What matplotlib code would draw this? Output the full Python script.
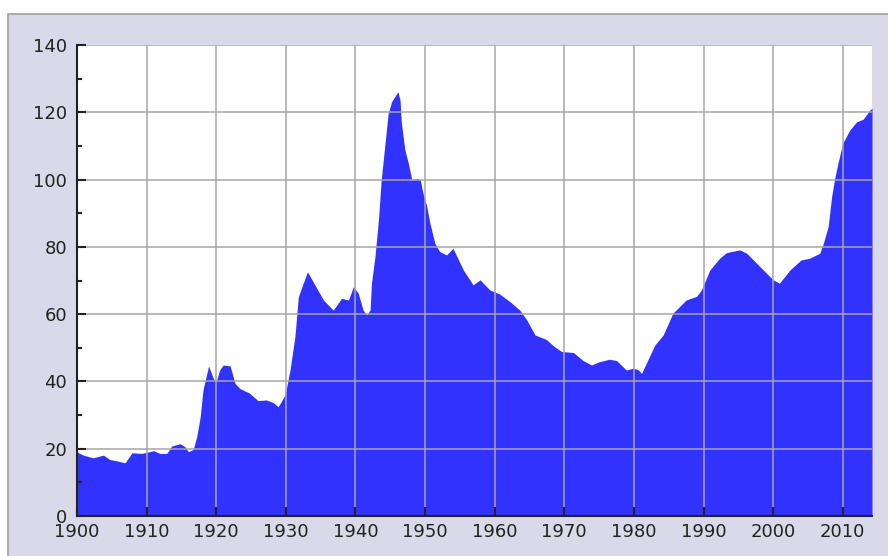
import matplotlib
matplotlib.use("Agg")
import matplotlib.pyplot as plt
from matplotlib.patches import Rectangle
from matplotlib.ticker import MultipleLocator

years = [1900.0, 1900.9, 1902.3, 1903.8, 1904.7, 1905.9, 1906.9, 1907.9, 1909.3, 1911.0,
         1911.9, 1912.9, 1913.6, 1914.8, 1915.5, 1916.0, 1916.7, 1917.2, 1917.7, 1918.1,
         1918.9, 1919.6, 1920.0, 1920.5, 1921.0, 1922.0, 1922.7, 1923.4, 1924.8, 1926.0,
         1927.2, 1928.2, 1928.9, 1929.9, 1930.6, 1931.3, 1931.8, 1932.5, 1933.1, 1933.9,
         1935.4, 1936.8, 1938.0, 1939.0, 1939.7, 1940.4, 1941.1, 1941.6, 1942.1, 1942.3,
         1942.8, 1943.3, 1943.7, 1944.2, 1944.7, 1945.2, 1946.1, 1946.4, 1946.6, 1947.1,
         1947.6, 1948.1, 1948.8, 1949.3, 1949.7, 1950.2, 1950.7, 1951.4, 1952.1, 1953.1,
         1954.0, 1955.5, 1956.9, 1957.9, 1959.3, 1960.7, 1962.2, 1963.6, 1964.6, 1965.8,
         1967.4, 1968.6, 1969.6, 1971.3, 1972.7, 1973.9, 1975.1, 1976.5, 1977.5, 1978.9,
         1979.9, 1980.6, 1981.1, 1983.0, 1984.2, 1985.6, 1987.5, 1989.0, 1989.7, 1990.9,
         1992.3, 1993.3, 1995.2, 1996.2, 1998.6, 2000.0, 2000.9, 2002.4, 2004.0, 2005.2,
         2006.7, 2007.2, 2007.9, 2008.4, 2008.8, 2009.3, 2010.0, 2011.0, 2012.0, 2012.9,
         2013.9, 2014.2]
debt_pct = [19.0, 18.1, 17.3, 18.1, 16.8, 16.3, 15.8, 18.8, 18.6, 19.4,
            18.6, 18.6, 20.8, 21.5, 20.6, 19.1, 19.8, 23.6, 29.5, 37.5,
            44.6, 40.8, 40.0, 43.4, 44.9, 44.6, 39.4, 37.9, 36.5, 34.3,
            34.5, 33.7, 32.5, 36.0, 43.4, 53.3, 65.2, 69.2, 72.6, 69.7,
            64.2, 61.2, 64.7, 64.2, 68.2, 66.2, 61.2, 59.8, 61.2, 69.2,
            77.1, 88.0, 99.9, 109.8, 119.7, 123.2, 126.1, 123.7, 116.7, 108.8,
            104.8, 99.9, 100.4, 100.0, 95.9, 92.4, 87.0, 81.1, 78.6, 77.6,
            79.6, 73.1, 68.7, 70.2, 67.2, 66.0, 63.7, 61.2, 58.3, 53.8,
            52.5, 50.3, 48.9, 48.6, 46.2, 44.9, 45.9, 46.6, 46.2, 43.4,
            43.9, 43.5, 42.4, 50.8, 53.8, 60.3, 64.2, 65.3, 67.2, 73.1,
            76.6, 78.3, 79.1, 78.1, 73.1, 70.2, 69.2, 73.1, 76.1, 76.6,
            78.1, 81.0, 86.0, 94.9, 99.9, 104.8, 110.8, 114.7, 117.2, 117.9,
            120.7, 121.2]

x_ticks = list(range(1900, 2011, 10))
y_ticks = list(range(0, 141, 20))

fig = plt.figure(figsize=(8.88, 5.56), dpi=100)
fig.patch.set_facecolor("white")
W, H = 888, 556
panel = Rectangle((8 / W, -0.01), 1 - 8 / W + 0.01, (H - 14) / H + 0.01, transform=fig.transFigure,
                  facecolor="#d9d9e9", edgecolor="#a0a0a0", linewidth=1.2, zorder=-10)
fig.patches.append(panel)

ax = fig.add_axes([77 / W, (H - 516) / H, (872 - 77) / W, (516 - 45) / H])
ax.set_zorder(1)
ax.set_facecolor("white")
ax.fill_between(years, debt_pct, 0, color="#3232ff", linewidth=0, zorder=1)

ax.set_xlim(1900, 2014.2)
ax.set_ylim(0, 140)
ax.set_xticks(x_ticks)
ax.set_yticks(y_ticks)
ax.yaxis.set_minor_locator(MultipleLocator(10))

ax.grid(True, which="major", color="#a6a6a6", linewidth=1.1)
ax.set_axisbelow(False)

for s in ["top", "right"]:
    ax.spines[s].set_visible(False)
for s in ["left", "bottom"]:
    ax.spines[s].set_color("#222222")
    ax.spines[s].set_linewidth(1.5)
    ax.spines[s].set_zorder(3)

ax.tick_params(axis="both", which="major", direction="in", length=6.5, width=1.5,
               color="#222222", labelsize=13, labelcolor="#222222")
ax.tick_params(axis="y", which="minor", direction="in", length=3.5, width=1.5, color="#222222")
ax.tick_params(axis="y", which="major", pad=7)
ax.tick_params(axis="x", which="major", pad=5)

fig.savefig("out.png", dpi=100, facecolor=fig.get_facecolor())
